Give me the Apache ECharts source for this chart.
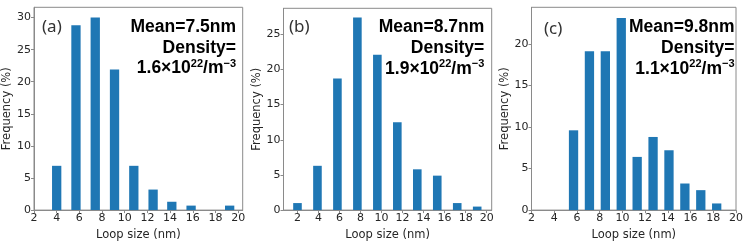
<!DOCTYPE html>
<html><head><meta charset="utf-8">
<script src="https://cdn.jsdelivr.net/npm/echarts@6/dist/echarts.min.js"></script>
<style>html,body{margin:0;padding:0;background:#fff}#c{width:746px;height:246px}</style>
</head><body><div id="c"></div>
<script>
// ---- data ----
const xTickLabels = [2, 4, 6, 8, 10, 12, 14, 16, 18, 20];
const yTicksA = [0, 5, 10, 15, 20, 25, 30];
const yTicksB = [0, 5, 10, 15, 20, 25];
const yTicksC = [0, 5, 10, 15, 20];
const sizesA = [4.0, 5.7, 7.4, 9.1, 10.8, 12.5, 14.15, 15.85, 17.55, 19.25];
const freqA  = [6.9, 28.8, 30.0, 21.9, 6.9, 3.2, 1.3, 0.7, 0, 0.7];
const sizesB = [2.0, 3.9, 5.8, 7.7, 9.6, 11.5, 13.4, 15.3, 17.2, 19.1];
const freqB  = [1.0, 6.3, 18.7, 27.4, 22.1, 12.5, 5.8, 4.9, 1.0, 0.5];
const sizesC = [5.7, 7.1, 8.5, 9.9, 11.3, 12.7, 14.1, 15.5, 16.9, 18.3];
const freqC  = [9.6, 19.1, 19.1, 23.1, 6.4, 8.8, 7.2, 3.2, 2.4, 0.8];
const panelLabels = ['(a)', '(b)', '(c)'];
const meanValues = ['7.5', '8.7', '9.8'];
const densityValues = ['1.6', '1.9', '1.1'];
const xName = 'Loop size (nm)';
const yName = 'Frequency (%)';

// ---- layout ----
const panels = [
  {grid: {left: 34, top: 7.3, width: 208.7, height: 207}, xMin: 2, xMax: 20.4, yMax: 31.6, yTicks: yTicksA,
   sizes: sizesA, freq: freqA, barW: 9.3, lbl: [42, 27], txt: [236, 16.7]},
  {grid: {left: 283.5, top: 8.3, width: 208.2, height: 206}, xMin: 0.67, xMax: 20.48, yMax: 28.7, yTicks: yTicksB,
   sizes: sizesB, freq: freqB, barW: 8.6, lbl: [289, 27], txt: [484.3, 17]},
  {grid: {left: 531.5, top: 7.3, width: 205.5, height: 203.4}, xMin: 2, xMax: 20, yMax: 24.4, yTicks: yTicksC,
   sizes: sizesC, freq: freqC, barW: 9.3, lbl: [544, 29], txt: [734.5, 17]}
];

const spine = '#8a8a8a';
const tickText = '#262626';
const font = 'DejaVu Sans';

const option = {
  animation: false,
  backgroundColor: '#fff',
  grid: panels.map(p => Object.assign({show: true, borderColor: spine, borderWidth: 1, backgroundColor: 'transparent'}, p.grid)),
  xAxis: panels.map((p, i) => ({
    type: 'value', gridIndex: i, min: p.xMin, max: p.xMax,
    name: xName, nameLocation: 'middle', nameGap: 14,
    nameTextStyle: {fontFamily: font, fontSize: 11.5, color: tickText},
    axisLine: {show: true, lineStyle: {color: spine, width: 1}},
    axisTick: {show: true, length: 3, lineStyle: {color: spine}, customValues: xTickLabels},
    axisLabel: {fontFamily: font, fontSize: 11, color: tickText, margin: 3, customValues: xTickLabels},
    splitLine: {show: false}
  })),
  yAxis: panels.map((p, i) => ({
    type: 'value', gridIndex: i, min: 0, max: p.yMax,
    name: yName, nameLocation: 'middle', nameGap: 20,
    nameTextStyle: {fontFamily: font, fontSize: 11.5, color: tickText},
    axisLine: {show: true, lineStyle: {color: spine, width: 1}},
    axisTick: {show: true, length: 3, lineStyle: {color: spine}, customValues: p.yTicks},
    axisLabel: {fontFamily: font, fontSize: 11, color: tickText, margin: 3, customValues: p.yTicks},
    splitLine: {show: false}
  })),
  series: panels.map((p, i) => ({
    type: 'bar', xAxisIndex: i, yAxisIndex: i, barWidth: p.barW,
    itemStyle: {color: '#1f77b4'},
    data: p.sizes.map((s, k) => [s, p.freq[k]])
  })),
  graphic: panels.flatMap((p, i) => [
    {type: 'text', x: p.lbl[0], y: p.lbl[1], silent: true,
     style: {text: panelLabels[i], fill: '#333', font: '17px "Noto Sans"', align: 'left', verticalAlign: 'middle'}},
    {type: 'text', x: p.txt[0], y: p.txt[1], silent: true,
     style: {
       text: '{b|Mean=' + meanValues[i] + 'nm}\n{b|Density=}\n{b|' + densityValues[i] + '×10}{s|22}{b|/m}{s|−3}',
       align: 'right', verticalAlign: 'top',
       rich: {
         b: {fontFamily: 'Liberation Sans', fontWeight: 'bold', fontSize: 17.5, lineHeight: 20.7, fill: '#000'},
         s: {fontFamily: 'Liberation Sans', fontWeight: 'bold', fontSize: 11, verticalAlign: 'top', fill: '#000'}
       }
     }}
  ])
};

const chart = echarts.init(document.getElementById('c'), null, {renderer: 'canvas'});
chart.setOption(option);
</script>
</body></html>
